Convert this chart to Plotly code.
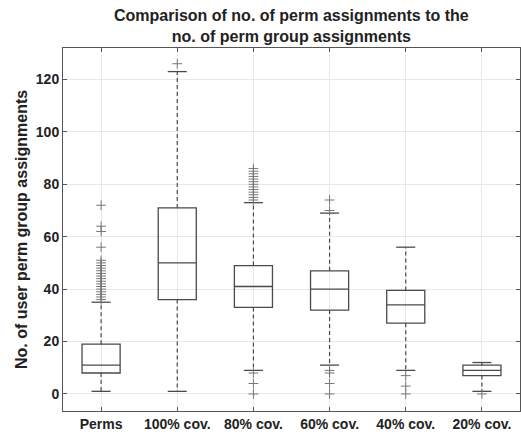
import plotly.graph_objects as go

categories = ["Perms", "100% cov.", "80% cov.", "60% cov.", "40% cov.", "20% cov."]
q1 = [8, 36, 33, 32, 27, 7]
median = [11, 50, 41, 40, 34, 9]
q3 = [19, 71, 49, 47, 39.5, 11]
lower_whisker = [1, 1, 9, 11, 9, 1]
upper_whisker = [35, 123, 73, 69, 56, 12]
outliers = [
    [36, 37, 38, 39, 40, 41, 42, 43, 44, 45, 46, 47, 48, 49, 50, 51, 56, 62, 64, 72],
    [126],
    [74, 75, 76, 77, 78, 79, 80, 81, 82, 83, 84, 85, 86, 8, 4, 0],
    [70, 74, 9, 8, 4, 0],
    [7, 3, 0],
    [0],
]
y_ticks = [0, 20, 40, 60, 80, 100, 120]

pos = list(range(1, len(categories) + 1))
BOX_W = 0.5
CAP_W = 0.25
LINE = "#4a4a4a"
FONT = "Arial, Liberation Sans, sans-serif"
ML, MR, MT, MB = 63, 1, 48, 23

fig = go.Figure()

# whiskers (dashed)
wx, wy = [], []
for p, a, b, lo, hi in zip(pos, q1, q3, lower_whisker, upper_whisker):
    wx += [p, p, None, p, p, None]
    wy += [b, hi, None, a, lo, None]
fig.add_trace(go.Scatter(x=wx, y=wy, mode="lines",
                         line=dict(color=LINE, width=1.2, dash="4px,3px"),
                         hoverinfo="skip", showlegend=False))

# caps
cx, cy = [], []
for p, lo, hi in zip(pos, lower_whisker, upper_whisker):
    cx += [p - CAP_W / 2, p + CAP_W / 2, None, p - CAP_W / 2, p + CAP_W / 2, None]
    cy += [hi, hi, None, lo, lo, None]
fig.add_trace(go.Scatter(x=cx, y=cy, mode="lines",
                         line=dict(color=LINE, width=1.3),
                         hoverinfo="skip", showlegend=False))

# boxes
fig.add_trace(go.Box(x=pos, q1=q1, median=median, q3=q3,
                     lowerfence=q1, upperfence=q3,
                     width=BOX_W, whiskerwidth=0,
                     fillcolor="rgba(255,255,255,0)",
                     line=dict(color=LINE, width=1.3),
                     boxpoints=False, showlegend=False))

# outliers
ox, oy = [], []
for p, vals in zip(pos, outliers):
    ox += [p] * len(vals)
    oy += vals
fig.add_trace(go.Scatter(x=ox, y=oy, mode="markers",
                         marker=dict(symbol="cross-thin", size=7,
                                     line=dict(color="#777777", width=1)),
                         hoverinfo="skip", showlegend=False))

fig.add_annotation(text="No. of user perm group assignments",
                   xref="paper", yref="paper", x=0, y=0.5,
                   xshift=21.5 - ML, xanchor="center", yanchor="middle",
                   textangle=-90, showarrow=False,
                   font=dict(size=16, family=FONT, color="#222222", weight="bold"))

fig.add_annotation(text="Comparison of no. of perm assignments to the<br>no. of perm group assignments",
                   xref="paper", yref="paper", x=0.5, y=1,
                   xanchor="center", yanchor="bottom", yshift=1,
                   showarrow=False,
                   font=dict(size=16, family=FONT, color="#222222", weight="bold"))

fig.update_layout(
    width=521, height=434,
    margin=dict(l=ML, r=MR, t=MT, b=MB, autoexpand=False),
    paper_bgcolor="white", plot_bgcolor="white",
    font=dict(family=FONT, color="#333333"),
    xaxis=dict(range=[0.5, 6.5], tickmode="array", tickvals=pos, ticktext=categories,
               automargin=False,
               showgrid=True, gridcolor="#e8e8e8", gridwidth=1,
               ticks="inside", ticklen=4, tickcolor="#555555",
               showline=True, linecolor="#555555", linewidth=1, mirror="ticks",
               zeroline=False,
               tickfont=dict(size=14, family=FONT, color="#222222", weight="bold")),
    yaxis=dict(range=[-6.5, 132], tickmode="array", tickvals=y_ticks,
               automargin=False,
               showgrid=True, gridcolor="#e8e8e8", gridwidth=1,
               ticks="inside", ticklen=4, tickcolor="#555555",
               showline=True, linecolor="#555555", linewidth=1, mirror="ticks",
               zeroline=False,
               tickfont=dict(size=14, family=FONT, color="#222222", weight="bold")),
)

fig.write_html("out.html",
               config={"displayModeBar": False},
               post_script="document.body.style.margin='0';document.body.style.padding='0';")
